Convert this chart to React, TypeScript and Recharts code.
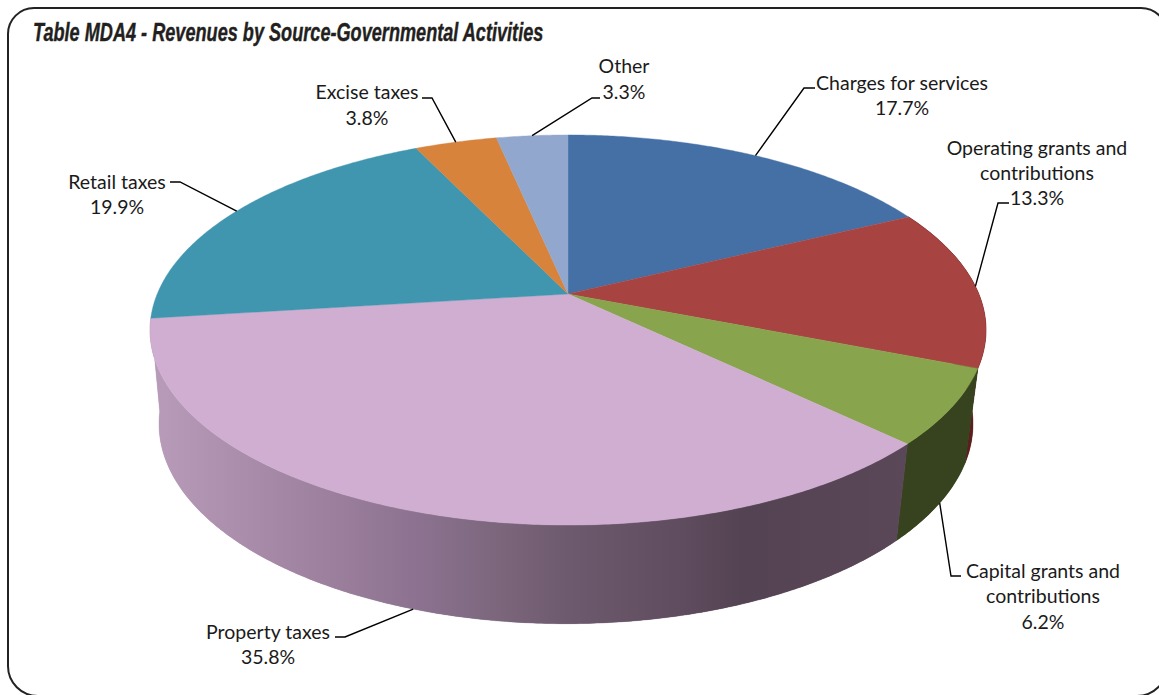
import React from 'react';
import { PieChart, Pie, Cell } from 'recharts';

const categories = [
  'Charges for services',
  'Operating grants and contributions',
  'Capital grants and contributions',
  'Property taxes',
  'Retail taxes',
  'Excise taxes',
  'Other',
];
const shares = [17.7, 13.3, 6.2, 35.8, 19.9, 3.8, 3.3];
const topColors = ['#4470a6', '#a74442', '#88a44c', '#d0aed2', '#4096ae', '#d7833c', '#92a7ce'];
const wallColors = ['#2c4a70', '#5c1f1e', '#37431f', 'url(#propertyWall)', '#26606f', '#8a5022', '#5f6f8c'];

const chartData = categories.map((name, i) => ({ name, value: shares[i] }));

// label placement: wrapped lines, text centre, first line centre, leader elbow
const labelLayout: Record<string, { lines: string[]; x: number; y: number; gap: number; tail: number[] }> = {
  'Charges for services': { lines: ['Charges for services'], x: 902, y: 82, gap: 25, tail: [815, 88, 804, 88] },
  'Operating grants and contributions': { lines: ['Operating grants and', 'contributions'], x: 1037, y: 147, gap: 25, tail: [1009, 203, 998, 203] },
  'Capital grants and contributions': { lines: ['Capital grants and', 'contributions'], x: 1043, y: 570, gap: 25.5, tail: [961, 576, 951, 576] },
  'Property taxes': { lines: ['Property taxes'], x: 268, y: 631, gap: 25, tail: [335, 637, 345, 637] },
  'Retail taxes': { lines: ['Retail taxes'], x: 117, y: 181, gap: 25, tail: [170, 182, 180, 182] },
  'Excise taxes': { lines: ['Excise taxes'], x: 367, y: 91, gap: 26, tail: [422, 98, 432, 98] },
  Other: { lines: ['Other'], x: 624, y: 65, gap: 26, tail: [600, 98, 592, 98] },
};

// the disc is a projected circle: the far side is foreshortened, so the hub sits above the ellipse centre
const PERSPECTIVE = 0.1846;
const topFace = { dx: 0, dy: 0, a: 410.8, b: 188.4 };
const bottomFace = { dx: -2, dy: 93, a: 400, b: 193 };

type Face = typeof topFace;

const rimPoint = (cx: number, cy: number, deg: number, face: Face) => {
  const rad = (deg * Math.PI) / 180;
  const u = Math.cos(rad);
  const v = Math.sin(rad);
  const w = 1 + PERSPECTIVE * v;
  return [cx + face.dx + (face.a * u) / w, cy + face.dy - (face.b * v) / w];
};

const arcPoints = (cx: number, cy: number, from: number, to: number, face: Face) => {
  const steps = Math.max(2, Math.ceil(Math.abs(from - to) * 2));
  const pts: number[][] = [];
  for (let i = 0; i <= steps; i++) {
    pts.push(rimPoint(cx, cy, from + ((to - from) * i) / steps, face));
  }
  return pts;
};

const toPath = (pts: number[][]) =>
  pts.map((p, i) => `${i ? 'L' : 'M'}${p[0].toFixed(2)},${p[1].toFixed(2)}`).join(' ') + ' Z';

const TopSlice = ({ cx, cy, startAngle, endAngle, fill }: any) => (
  <path d={toPath([[cx, cy], ...arcPoints(cx, cy, startAngle, endAngle, topFace)])} fill={fill} stroke={fill} strokeWidth={0.4} />
);

// side wall of a slice, skipped for slices lying wholly on the far side of the disc
const WallSlice = ({ cx, cy, startAngle, endAngle, fill }: any) => {
  if (endAngle > 0 || startAngle < -172) return null;
  const upper = arcPoints(cx, cy, startAngle, endAngle, topFace);
  const lower = arcPoints(cx, cy, startAngle, endAngle, bottomFace);
  // quads go underneath: they only add the tangent silhouette between both rims
  const quads = upper
    .slice(1)
    .map((p, i) => toPath([upper[i], p, lower[i + 1], lower[i]]))
    .join(' ');
  return (
    <g>
      <path d={quads} fill={fill} />
      <path d={toPath([...upper, ...[...lower].reverse()])} fill={fill} stroke={fill} strokeWidth={0.4} />
    </g>
  );
};

const SliceLabel = ({ cx, cy, startAngle, endAngle, name, value }: any) => {
  const layout = labelLayout[name];
  if (!layout) return null;
  const mid = (startAngle + endAngle) / 2;
  const face = Math.sin((mid * Math.PI) / 180) < 0 ? bottomFace : topFace;
  const [ax, ay] = rimPoint(cx, cy, mid, face);
  const { tail } = layout;
  const rows = [...layout.lines, `${value.toFixed(1)}%`];
  return (
    <g>
      <polyline
        points={`${tail[0]},${tail[1]} ${tail[2]},${tail[3]} ${ax},${ay}`}
        fill="none"
        stroke="#000"
        strokeWidth={1.4}
      />
      {rows.map((row, i) => (
        <text
          key={row}
          x={layout.x}
          y={layout.y + i * layout.gap}
          textAnchor="middle"
          dominantBaseline="central"
          fontFamily="Lato, 'Open Sans', sans-serif"
          fontSize={19.5}
          fill="#1a1a1a"
        >
          {row}
        </text>
      ))}
    </g>
  );
};

export default function App() {
  return (
    <div style={{ position: 'absolute', left: 0, top: 0, width: 1159, height: 695, overflow: 'hidden', background: '#fff' }}>
      <div
        style={{
          position: 'absolute',
          left: 7,
          top: 7,
          width: 1157,
          height: 686,
          border: '2.5px solid #222',
          borderRadius: '27px 27px 31px 31px',
        }}
      />
      <div
        style={{
          position: 'absolute',
          left: 33,
          top: 18,
          fontFamily: "'Liberation Sans', sans-serif",
          fontWeight: 700,
          fontStyle: 'italic',
          fontSize: 25,
          lineHeight: '28px',
          whiteSpace: 'nowrap',
          color: '#231f20',
          WebkitTextStroke: '0.4px #231f20',
          transform: 'scaleX(0.725)',
          transformOrigin: 'left center',
        }}
      >
        Table MDA4 - Revenues by Source-Governmental Activities
      </div>
      <div style={{ position: 'absolute', left: 0, top: 0 }}>
        <PieChart width={1159} height={695} margin={{ top: 0, right: 0, bottom: 0, left: 0 }}>
          <defs>
            <linearGradient id="propertyWall" gradientUnits="userSpaceOnUse" x1={150} y1={0} x2={910} y2={0}>
              <stop offset="0" stopColor="#b89cb9" />
              <stop offset="0.197" stopColor="#a184a2" />
              <stop offset="0.355" stopColor="#8c7290" />
              <stop offset="0.46" stopColor="#7b667c" />
              <stop offset="0.55" stopColor="#6e5a6e" />
              <stop offset="0.7" stopColor="#5f4c5e" />
              <stop offset="0.78" stopColor="#544353" />
              <stop offset="1" stopColor="#5a4758" />
            </linearGradient>
          </defs>
          <Pie
            data={chartData}
            dataKey="value"
            nameKey="name"
            cx={568}
            cy={294}
            outerRadius={190}
            startAngle={90}
            endAngle={-270}
            stroke="none"
            shape={WallSlice}
            isAnimationActive={false}
          >
            {chartData.map((d, i) => (
              <Cell key={d.name} fill={wallColors[i]} />
            ))}
          </Pie>
          <Pie
            data={chartData}
            dataKey="value"
            nameKey="name"
            cx={568}
            cy={294}
            outerRadius={190}
            startAngle={90}
            endAngle={-270}
            stroke="none"
            shape={TopSlice}
            label={SliceLabel}
            labelLine={false}
            isAnimationActive={false}
          >
            {chartData.map((d, i) => (
              <Cell key={d.name} fill={topColors[i]} />
            ))}
          </Pie>
        </PieChart>
      </div>
    </div>
  );
}
